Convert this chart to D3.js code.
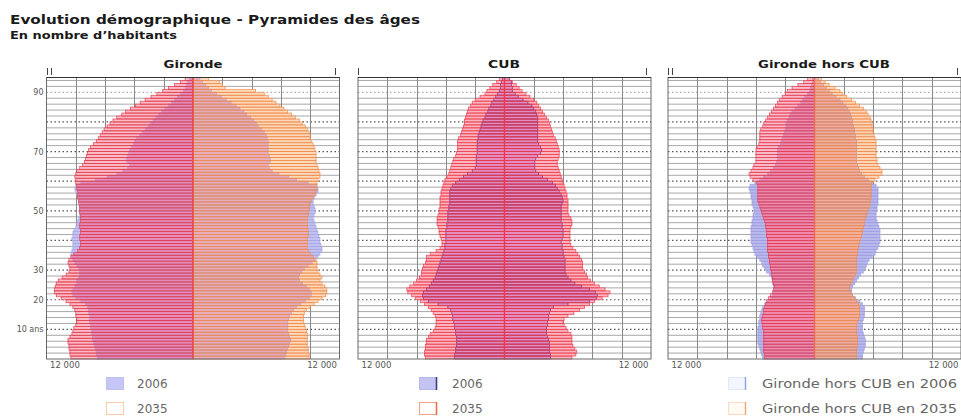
<!DOCTYPE html>
<html><head><meta charset="utf-8">
<script src="https://cdn.jsdelivr.net/npm/d3@7"></script>
<style>body{margin:0;background:#fff;} svg{display:block;}</style>
</head><body><svg id="c" width="961" height="416"></svg>
<script>
// ---------- DATA (ages 0..94, persons per single year of age) ----------
const AGES = d3.range(0, 95);

const GIR_M_2006 = [9800,9900,9900,10000,10100,10200,10300,10300,10400,10400,10500,10500,10600,10600,10600,10700,10700,10800,11000,11500,12000,12300,12400,12300,12100,11900,11900,11700,11600,11600,11700,11900,12100,12300,12400,12500,12400,12300,12300,12300,12400,12300,12300,12200,12000,11900,11800,11700,11600,11600,11600,11600,11600,11700,11800,11900,12000,12100,12000,11500,10000,8800,7800,7200,6700,6500,6800,6800,6700,6600,6500,6300,6100,6000,5800,5500,5200,4900,4600,4400,4100,3800,3500,3200,2900,2500,2200,1900,1600,1300,1000,800,700,600,400];
const GIR_M_2035 = [12500,12600,12600,12700,12700,12800,12800,12600,12400,12300,12200,12000,11900,11900,12000,12000,12100,12300,12600,13000,13500,14000,14200,14200,14100,14000,13800,13400,13000,12700,12600,12700,12800,12700,12500,12200,11800,11600,11500,11500,11600,11600,11500,11500,11600,11600,11500,11500,11500,11600,11600,11600,11700,11700,11800,11800,11800,11900,11900,12000,12000,12100,12000,11900,11600,11300,11100,11000,10900,10800,10700,10500,10200,9900,9700,9500,9300,9100,8800,8500,8200,7800,7300,6900,6400,5900,5400,4900,4300,3700,3100,2500,1900,1300,800];
const GIR_F_2006 = [9400,9500,9600,9700,9800,9900,10000,9900,9800,9700,9700,9700,9700,9800,9900,10100,10300,10600,11000,11500,11900,12100,12100,11900,11600,11200,10900,10800,10900,11100,11400,11800,12200,12500,12800,13000,13200,13200,13100,13000,13000,12900,12800,12700,12600,12500,12400,12300,12400,12500,12500,12400,12300,12300,12400,12600,12800,12800,12600,11800,10600,9800,8800,8100,7800,7700,7900,7900,7800,7700,7700,7700,7700,7700,7600,7500,7300,7000,6700,6500,6200,5900,5500,5200,4800,4400,3900,3400,2900,2400,1900,1600,1300,1000,700];
const GIR_F_2035 = [11900,11900,11800,11800,11700,11700,11700,11700,11700,11600,11500,11400,11300,11300,11300,11400,11600,12000,12400,12800,13200,13600,13700,13700,13500,13200,13000,13200,13000,12800,12700,12700,12700,12600,12300,12000,11800,11700,11700,11700,11700,11800,11800,11800,11700,11700,11700,11700,11800,11800,11900,11900,12000,12100,12300,12500,12600,12700,12700,12700,12800,13000,13000,12900,12800,12700,12600,12600,12600,12600,12500,12400,12300,12100,12000,12000,11900,11700,11500,11200,10900,10500,10100,9700,9300,8900,8500,8100,7700,7300,6400,3300,3000,2700,1600];

const CUB_M_2006 = [5100,5100,5000,5000,4900,4900,4900,4900,5000,5000,5100,5100,5200,5300,5300,5400,5500,5800,6800,7800,8300,8400,8300,8000,7700,7500,7300,7100,7000,6900,6800,6700,6600,6500,6400,6300,6200,6100,6100,6000,6000,6000,6000,6000,5900,5900,5800,5800,5800,5800,5700,5700,5600,5600,5600,5600,5600,5500,5300,5000,4600,4200,3800,3300,3000,2900,2900,2900,2900,2800,2800,2800,2800,2800,2700,2700,2600,2500,2400,2300,2200,2000,1900,1700,1600,1400,1300,1100,900,700,500,400,400,300,200];
const CUB_M_2035 = [8100,8200,8200,8100,8100,8000,8000,7800,7600,7300,7100,7000,7000,7000,7100,7300,7500,7800,8200,8600,9100,9500,9900,10000,9700,9300,9000,8700,8500,8500,8400,8300,8100,8000,8000,7600,7000,6600,6400,6400,6500,6600,6700,6700,6800,6900,6900,6900,6800,6700,6700,6600,6600,6600,6600,6500,6500,6400,6300,6200,6100,5900,5700,5600,5500,5400,5300,5200,5000,4900,4800,4800,4800,4800,4700,4500,4400,4300,4200,4100,4100,4000,3900,3800,3700,3500,3300,3000,2500,2000,1800,1500,1200,800,500];
const CUB_F_2006 = [4700,4700,4600,4600,4600,4600,4500,4400,4300,4300,4300,4400,4400,4500,4500,4600,4700,5000,6500,8700,9400,9500,9300,8700,7900,7200,6800,6500,6300,6200,6200,6200,6200,6200,6100,6000,6000,5900,5900,5800,5900,6000,6000,6000,5900,5900,5800,5800,5800,5800,5800,5800,5900,6000,5900,5800,5600,5400,5200,4900,4400,3900,3500,3200,3100,3100,3100,3200,3400,3700,3800,3700,3500,3400,3400,3400,3400,3400,3400,3400,3400,3400,3300,3200,3000,2800,2400,1900,1400,1100,800,800,700,700,500];
const CUB_F_2035 = [6900,7300,7400,7200,7000,6900,6900,6900,6800,6500,6300,6100,6000,6100,6500,7100,7700,8200,8700,9200,10000,10600,10800,10300,9700,9200,8800,8500,8400,8200,8000,8000,8000,7900,7700,7500,7300,7000,6800,6700,6700,6700,6700,6700,6800,6900,6900,6800,6600,6500,6500,6500,6500,6500,6400,6400,6300,6200,6100,6000,5900,5800,5700,5600,5500,5400,5400,5500,5600,5600,5600,5500,5400,5300,5200,5000,4900,4800,4700,4600,4500,4300,4100,3900,3700,3500,3300,3000,2600,2200,1800,1500,1200,800,500];

const HC_M_2006 = [5300,5400,5500,5600,5700,5800,5800,5800,5800,5800,5800,5700,5700,5600,5600,5500,5400,5300,5100,4800,4500,4300,4200,4100,4200,4300,4300,4400,4600,4900,5100,5300,5400,5600,5900,6100,6200,6300,6400,6500,6500,6500,6500,6500,6500,6400,6400,6300,6300,6200,6200,6300,6400,6400,6500,6500,6600,6700,6600,6100,5600,5200,4800,4500,4200,4000,3900,3800,3800,3800,3800,3700,3500,3400,3300,3200,3100,3000,2900,2900,2800,2600,2500,2300,2000,1700,1400,1200,1000,700,500,400,300,200,200];
const HC_M_2035 = [5100,5100,5200,5200,5200,5200,5200,5200,5200,5200,5300,5300,5400,5400,5300,5200,5200,5100,5000,4900,4700,4500,4300,4200,4100,4200,4300,4300,4400,4400,4500,4500,4600,4600,4700,4700,4800,4800,4800,4800,4800,4900,4900,4900,5000,5000,5100,5200,5300,5400,5500,5600,5700,5800,5800,5800,5800,5800,5800,5900,6300,6600,6700,6500,6300,6200,6000,6000,6000,6000,6000,5900,5700,5600,5600,5600,5600,5500,5300,5200,5000,4800,4600,4400,4200,4000,3800,3600,3300,3000,2800,2300,1700,1100,700];
const HC_F_2006 = [4900,4900,5000,5100,5200,5200,5200,5100,5000,4900,4900,4900,4900,5000,5100,5100,5100,5100,4900,4600,4200,3900,3800,3800,3900,4100,4300,4500,4700,5000,5200,5300,5400,5600,5900,6200,6300,6500,6600,6700,6700,6700,6700,6700,6600,6500,6400,6300,6300,6300,6400,6400,6500,6500,6500,6500,6500,6500,6300,5900,5500,5100,4800,4600,4500,4400,4300,4300,4300,4300,4300,4300,4300,4300,4200,4200,4100,4100,4000,3900,3900,3800,3700,3600,3400,3200,2900,2600,2200,1800,1500,1200,900,600,400];
const HC_F_2035 = [4300,4300,4300,4300,4400,4400,4400,4400,4300,4300,4300,4300,4400,4500,4600,4600,4600,4600,4500,4300,4100,3900,3700,3600,3600,3700,3900,4000,4200,4300,4300,4300,4300,4300,4300,4400,4400,4500,4500,4600,4700,4800,4900,4900,5000,5100,5100,5200,5300,5400,5500,5600,5700,5700,5800,5800,5800,5800,5800,5900,6200,6600,6900,6900,6700,6500,6400,6400,6300,6300,6300,6300,6300,6300,6200,6100,6000,6000,5900,5900,5800,5700,5500,5300,5000,4600,4200,3800,3300,2900,2600,2100,1500,1100,700];

const Y_TICK_AGES = [90, 70, 50, 30, 20, 10];
const Y_TICK_LABELS = ["90", "70", "50", "30", "20", "10 ans"];
const X_TICKS = [-12000, 12000];
const X_TICK_LABELS = ["12 000", "12 000"];
const GRID_X = [-12000, -9000, -6000, -3000, 3000, 6000, 9000, 12000];
const PANEL_TITLES = ["Gironde", "CUB", "Gironde hors CUB"];
const LEGEND_LABELS = [["2006", "2035"], ["2006", "2035"], ["Gironde hors CUB en 2006", "Gironde hors CUB en 2035"]];
const TITLE = "Evolution démographique - Pyramides des âges";
const SUBTITLE = "En nombre d\u2019habitants";

// ---------- DRAWING ----------
const FONT = "DejaVu Sans";
const svg = d3.select("#c");
const W = 293;
const y = d3.scaleLinear().domain([0, 95]).range([359, 77.5]);

svg.append("text").attr("x", 10).attr("y", 24).attr("font-family", FONT).attr("font-weight", "bold")
  .attr("font-size", 13).attr("fill", "#1a1a1a").attr("textLength", 410).attr("lengthAdjust", "spacingAndGlyphs").text(TITLE);
svg.append("text").attr("x", 10).attr("y", 39).attr("font-family", FONT).attr("font-weight", "bold")
  .attr("font-size", 11).attr("fill", "#1a1a1a").attr("textLength", 167).attr("lengthAdjust", "spacingAndGlyphs").text(SUBTITLE);

const panels = [
  { left: 46.5, m06: GIR_M_2006, m35: GIR_M_2035, f06: GIR_F_2006, f35: GIR_F_2035,
    titleX: 193, titleW: 59, yAxis: true,
    st: { c06: "#c2c2f2", s06: "#a6a6e2", c35L: "#fbbac4", c35R: "#fdd9ba", cOvL: "#e98bb8", cOvR: "#e9acbc",
          s35L: "#e23a4c", s35R: "#f08a4a", center: "#e8403c" },
    leg: { sqX: 106, txtX: 137, sq: ["g06", "g35"], txtW: [null, null] },
    marksL: [47.5, 51.5], markR: 335.5 },
  { left: 358, m06: CUB_M_2006, m35: CUB_M_2035, f06: CUB_F_2006, f35: CUB_F_2035,
    titleX: 504, titleW: 32, yAxis: false,
    st: { c06: "#c2c2f2", s06: "#5a3a8c", c35L: "#f9b4be", c35R: "#f9b4be", cOvL: "#e58cc0", cOvR: "#e58cc0",
          s35L: "#f03c4e", s35R: "#f03c4e", center: "#ee3a44" },
    leg: { sqX: 419, txtX: 452, sq: ["c06", "c35"], txtW: [null, null] },
    marksL: [358.5], markR: 646.5 },
  { left: 668, m06: HC_M_2006, m35: HC_M_2035, f06: HC_F_2006, f35: HC_F_2035,
    titleX: 824, titleW: 132, yAxis: false,
    st: { c06: "#b9b9ee", s06: "#9c9ce0", c35L: "#f9bcc8", c35R: "#fdd6b6", cOvL: "#f08aa8", cOvR: "#f4ad98",
          s35L: "#e83a52", s35R: "#f08a4e", center: "#ec6a58" },
    leg: { sqX: 728, txtX: 762, sq: ["h06", "h35"], txtW: [195, 195] },
    marksL: [668.5, 672.5], markR: 957.5 }
];

function drawLegendSquare(g, kind, x0, y0) {
  const w = 17, h = 12;
  const r = g.append("rect").attr("x", x0 + 0.5).attr("y", y0 + 0.5).attr("width", w).attr("height", h);
  if (kind === "g06") r.attr("fill", "#c6c6f6").attr("stroke", "#c0c0f0");
  if (kind === "g35") r.attr("fill", "#fff").attr("stroke", "#fbcaa8");
  if (kind === "c06") { r.attr("fill", "#c4c4f2").attr("stroke", "#b8b8e8");
    g.append("line").attr("x1", x0 + w + 0.5).attr("x2", x0 + w + 0.5).attr("y1", y0).attr("y2", y0 + h + 1).attr("stroke", "#3c3c8a").attr("stroke-width", 1.6); }
  if (kind === "c35") { r.attr("fill", "#fff").attr("stroke", "#f2a284");
    g.append("line").attr("x1", x0 + w + 0.5).attr("x2", x0 + w + 0.5).attr("y1", y0).attr("y2", y0 + h + 1).attr("stroke", "#e8704c").attr("stroke-width", 1.6); }
  if (kind === "h06") { r.attr("fill", "#f3f6ff").attr("stroke", "#e2e8fb");
    g.append("line").attr("x1", x0 + w + 0.5).attr("x2", x0 + w + 0.5).attr("y1", y0).attr("y2", y0 + h + 1).attr("stroke", "#8c9ef0").attr("stroke-width", 1.4); }
  if (kind === "h35") { r.attr("fill", "#fffaf4").attr("stroke", "#fcdcc4");
    g.append("line").attr("x1", x0 + w + 0.5).attr("x2", x0 + w + 0.5).attr("y1", y0).attr("y2", y0 + h + 1).attr("stroke", "#f4a676").attr("stroke-width", 1.4); }
}

panels.forEach((p, i) => {
  const x = d3.scaleLinear().domain([-15000, 15000]).range([p.left, p.left + W]);
  const g = svg.append("g");
  const top = y(95), bot = y(0);

  // horizontal light grid (every 2 years), dotted every 10 years
  const evenAges = d3.range(2, 95, 2).filter(a => a % 10 !== 0);
  g.selectAll(".hg").data(evenAges).join("line")
    .attr("x1", x(-15000)).attr("x2", x(15000)).attr("y1", a => y(a)).attr("y2", a => y(a))
    .attr("stroke", "#a8a8a8").attr("stroke-width", 1);
  g.selectAll(".hd").data(d3.range(10, 95, 10)).join("line")
    .attr("x1", x(-15000)).attr("x2", x(15000)).attr("y1", a => y(a)).attr("y2", a => y(a))
    .attr("stroke", a => a === 90 ? "#aaa" : "#555").attr("stroke-width", 1.2).attr("stroke-dasharray", "1.5 2.5");
  // vertical grid
  g.selectAll(".vg").data(GRID_X).join("line")
    .attr("x1", d => Math.round(x(d)) + 0.5).attr("x2", d => Math.round(x(d)) + 0.5).attr("y1", top).attr("y2", bot)
    .attr("stroke", "#8a8a8a").attr("stroke-width", 1);

  const st = p.st;
  const sides = [
    { sign: -1, v06: p.m06, v35: p.m35, c35: st.c35L, cOv: st.cOvL, s35: st.s35L },
    { sign: 1, v06: p.f06, v35: p.f35, c35: st.c35R, cOv: st.cOvR, s35: st.s35R }
  ];
  const bx = (v, s) => s < 0 ? x(-v) : x(0);
  const bw = v => x(v) - x(0);
  const by = a => y(a + 1);
  const bh = a => y(a) - y(a + 1);

  sides.forEach(sd => {
    const gs = g.append("g");
    gs.selectAll(".b06").data(AGES).join("rect")
      .attr("x", a => bx(sd.v06[a], sd.sign)).attr("y", by).attr("width", a => bw(sd.v06[a])).attr("height", bh)
      .attr("fill", st.c06);
    gs.selectAll(".b35").data(AGES).join("rect")
      .attr("x", a => bx(sd.v35[a], sd.sign)).attr("y", by).attr("width", a => bw(sd.v35[a])).attr("height", bh)
      .attr("fill", sd.c35);
    gs.selectAll(".bov").data(AGES).join("rect")
      .attr("x", a => bx(Math.min(sd.v06[a], sd.v35[a]), sd.sign)).attr("y", by)
      .attr("width", a => bw(Math.min(sd.v06[a], sd.v35[a]))).attr("height", bh)
      .attr("fill", sd.cOv);
    gs.selectAll(".s06").data(AGES).join("rect")
      .attr("x", a => bx(sd.v06[a], sd.sign)).attr("y", by).attr("width", a => bw(sd.v06[a])).attr("height", bh)
      .attr("fill", "none").attr("stroke", st.s06).attr("stroke-width", 0.8).attr("stroke-opacity", 0.85);
    gs.selectAll(".s35").data(AGES).join("rect")
      .attr("x", a => bx(sd.v35[a], sd.sign)).attr("y", by).attr("width", a => bw(sd.v35[a])).attr("height", bh)
      .attr("fill", "none").attr("stroke", sd.s35).attr("stroke-width", 0.8).attr("stroke-opacity", 0.85);
  });

  // centre line
  g.append("line").attr("x1", x(0)).attr("x2", x(0)).attr("y1", top).attr("y2", bot)
    .attr("stroke", st.center).attr("stroke-width", 1.4);

  // frame
  g.append("rect").attr("x", x(-15000)).attr("y", top).attr("width", W).attr("height", bot - top)
    .attr("fill", "none").attr("stroke", "#6a6a6a").attr("stroke-width", 1);
  g.append("line").attr("x1", x(-15000)).attr("x2", x(15000)).attr("y1", top).attr("y2", top)
    .attr("stroke", "#333").attr("stroke-width", 1.2);

  // small marks above frame
  p.marksL.concat([p.markR]).forEach(mx => {
    g.append("line").attr("x1", mx).attr("x2", mx).attr("y1", 68).attr("y2", 75).attr("stroke", "#444").attr("stroke-width", 1);
  });

  // panel title
  g.append("text").attr("x", p.titleX).attr("y", 68).attr("text-anchor", "middle")
    .attr("font-family", FONT).attr("font-weight", "bold").attr("font-size", 10.5).attr("fill", "#1a1a1a")
    .attr("textLength", p.titleW).attr("lengthAdjust", "spacingAndGlyphs").text(PANEL_TITLES[i]);

  // x tick labels
  g.selectAll(".xt").data(X_TICKS).join("text")
    .attr("x", d => d < 0 ? x(d) + 4 : x(d) - 3)
    .attr("y", 368).attr("text-anchor", d => d < 0 ? "end" : "start")
    .attr("font-family", FONT).attr("font-size", 8.5).attr("fill", "#555")
    .text((d, j) => X_TICK_LABELS[j]);

  // y tick labels
  if (p.yAxis) {
    g.selectAll(".yt").data(Y_TICK_AGES).join("text")
      .attr("x", x(-15000) - 3).attr("y", a => y(a) + 3).attr("text-anchor", "end")
      .attr("font-family", FONT).attr("font-size", 8).attr("fill", "#555")
      .text((a, j) => Y_TICK_LABELS[j]);
  }

  // legend
  const rowsY = [377, 402];
  rowsY.forEach((ry, r) => {
    drawLegendSquare(g, p.leg.sq[r], p.leg.sqX, ry);
    const t = g.append("text").attr("x", p.leg.txtX).attr("y", ry + 10.5)
      .attr("font-family", FONT).attr("font-size", 12).attr("fill", "#666").text(LEGEND_LABELS[i][r]);
    if (p.leg.txtW[r]) t.attr("textLength", p.leg.txtW[r]).attr("lengthAdjust", "spacingAndGlyphs");
  });
});
</script>
</body></html>
